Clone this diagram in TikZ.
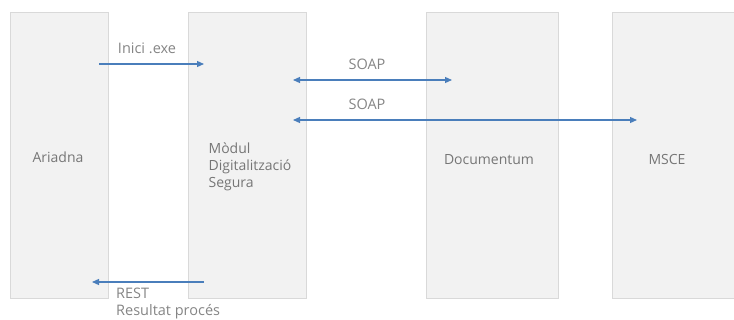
\documentclass[tikz,border=0pt]{standalone}
\usepackage{fontspec}
\setmainfont{Open Sans}
\usetikzlibrary{arrows.meta}
\definecolor{boxfill}{HTML}{F2F2F2}
\definecolor{boxline}{HTML}{D9D9D9}
\definecolor{arrowblue}{HTML}{4A7EBB}
\definecolor{sysgray}{HTML}{767676}
\definecolor{msggray}{HTML}{858585}
\begin{document}
\begin{tikzpicture}[x=1pt,y=-1pt,
    sys/.style={draw=boxline,fill=boxfill,line width=0.9pt,anchor=north west,
                inner sep=0pt,minimum height=286pt},
    systext/.style={text=sysgray,font=\fontsize{14}{17}\selectfont},
    msgtext/.style={text=msggray,font=\fontsize{14.5}{17}\selectfont},
    msg/.style={draw=arrowblue,line width=1.2pt,-{Triangle[length=7pt,width=6pt]}},
    msgboth/.style={msg,{Triangle[length=7pt,width=6pt]}-{Triangle[length=7pt,width=6pt]}}]
    \useasboundingbox (0,0) rectangle (734,320);
    % systems
    \node[sys,minimum width=98pt] (ariadna) at (10,12) {};
    \node[sys,minimum width=118pt] (modul) at (188,12) {};
    \node[sys,minimum width=132pt] (documentum) at (426,12) {};
    \node[sys,minimum width=140pt] (msce) at (612,12) {};
    \node[systext] (tariadna) at (58,157) {Ariadna};
    \node[systext,align=left] (tmodul) at (250,167) {Mòdul\\Digitalització\\Segura};
    \node[systext] (tdocumentum) at (489,160) {Documentum};
    \node[systext] (tmsce) at (667,160) {MSCE};
    % connector ends
    \coordinate (iniciA) at (99,64);
    \coordinate (iniciB) at (204,64);
    \coordinate (soapA) at (293,80);
    \coordinate (soapB) at (452,80);
    \coordinate (soapC) at (293,120);
    \coordinate (soapD) at (637,120);
    \coordinate (restA) at (204,282);
    \coordinate (restB) at (92,282);
    % messages
    \draw[msg] (iniciA) -- (iniciB);
    \draw[msgboth] (soapA) -- (soapB);
    \draw[msgboth] (soapC) -- (soapD);
    \draw[msg] (restA) -- (restB);
    \node[msgtext] (linici) at (147,48) {Inici .exe};
    \node[msgtext] (lsoap1) at (367,64) {SOAP};
    \node[msgtext] (lsoap2) at (367,104) {SOAP};
    \node[msgtext,align=left,anchor=north west,inner sep=0pt] (lrest) at (116,288)
        {REST\\Resultat procés};
\end{tikzpicture}
\end{document}
